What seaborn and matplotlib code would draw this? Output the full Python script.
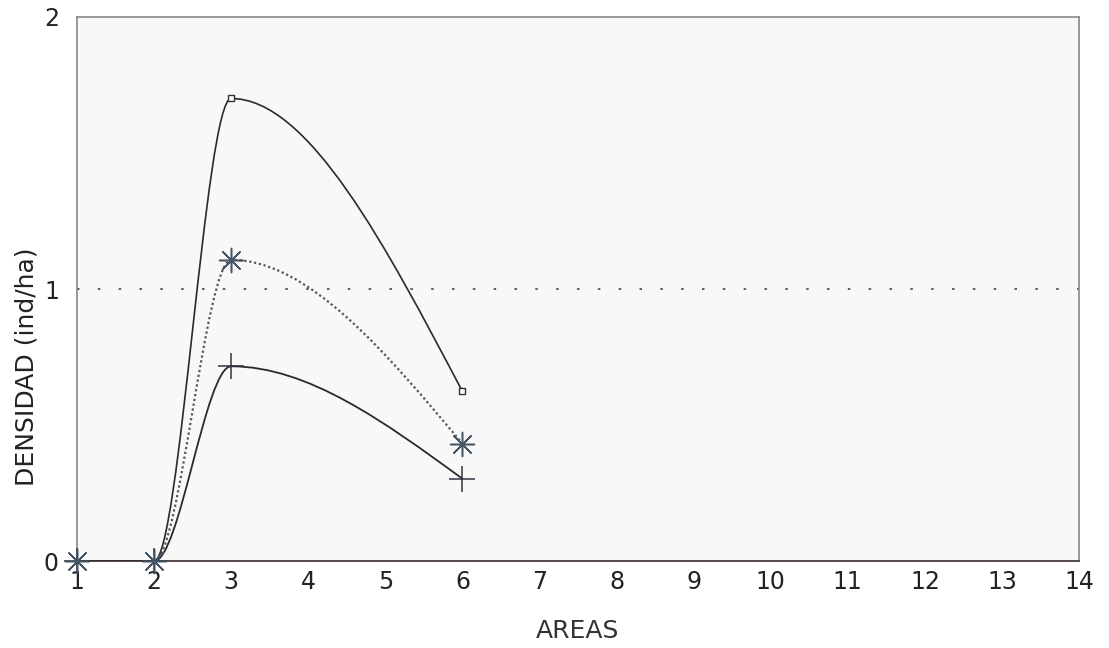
import matplotlib
matplotlib.use('Agg')
import matplotlib.pyplot as plt
from matplotlib.path import Path
from matplotlib.patches import PathPatch
import seaborn as sns

# Datos
areas = [1, 2, 3, 6]
serie_cuadro = [0.0, 0.0, 1.70, 0.624]
serie_asterisco = [0.0, 0.0, 1.107, 0.432]
serie_cruz = [0.0, 0.0, 0.716, 0.303]
x_ticks = list(range(1, 15))
y_ticks = [0, 1, 2]

sns.set_theme(style='white')
plt.rcParams['font.family'] = ['DejaVu Sans']


def tangentes(x, y):
    # pendientes tipo PCHIP en los puntos interiores, extremos "naturales"
    d = [(y[i + 1] - y[i]) / (x[i + 1] - x[i]) for i in range(len(x) - 1)]
    m = [0.0] * len(x)
    for i in range(1, len(x) - 1):
        if d[i - 1] * d[i] > 0:
            m[i] = 2 / (1 / d[i - 1] + 1 / d[i])
    m[0] = (3 * d[0] - m[1]) / 2
    m[-1] = (3 * d[-1] - m[-2]) / 2
    return m


def curva(ax, x, y, **kw):
    # curva suave dibujada como trazado bezier a traves de los puntos
    m = tangentes(x, y)
    verts = [(x[0], y[0])]
    codes = [Path.MOVETO]
    for i in range(len(x) - 1):
        h = (x[i + 1] - x[i]) / 3
        verts += [(x[i] + h, y[i] + m[i] * h),
                  (x[i + 1] - h, y[i + 1] - m[i + 1] * h),
                  (x[i + 1], y[i + 1])]
        codes += [Path.CURVE4] * 3
    ax.add_patch(PathPatch(Path(verts, codes), fill=False, **kw))


fig, ax = plt.subplots(figsize=(11.09, 6.48), dpi=100)
fig.subplots_adjust(left=0.0694, right=0.973, bottom=0.134, top=0.974)
ax.set_facecolor('#f8f8f8')

ax.axhline(1, color='#444444', lw=1.2, ls=(0, (1.5, 11)), zorder=1)

curva(ax, areas, serie_cuadro, color='#2a2a2a', lw=1.2, zorder=2)
curva(ax, areas, serie_asterisco, color='#555555', lw=1.6, ls=(0, (1, 1.2)), zorder=2)
curva(ax, areas, serie_cruz, color='#2a2a2a', lw=1.3, zorder=2)

sns.scatterplot(x=areas[2:], y=serie_cuadro[2:], marker='s', s=22, facecolor='white',
                edgecolor='#333333', linewidth=1, ax=ax, zorder=3)
sns.scatterplot(x=areas, y=serie_cruz, marker='+', s=330, color='#333344',
                linewidth=1.1, ax=ax, zorder=3)
sns.scatterplot(x=areas, y=serie_asterisco, marker=(8, 2, 0), s=300, color='#445566',
                linewidth=1.1, ax=ax, zorder=4)
for coll in ax.collections:
    coll.set_clip_on(False)

ax.set_xlim(1, 14)
ax.set_ylim(0, 2)
ax.set_xticks(x_ticks)
ax.set_yticks(y_ticks)
ax.tick_params(axis='both', length=0, labelsize=17, colors='#222222')
ax.tick_params(axis='x', pad=6)
ax.tick_params(axis='y', pad=13)
for lado in ['top', 'right', 'left']:
    ax.spines[lado].set_color('#888888')
    ax.spines[lado].set_linewidth(1.2)
ax.spines['bottom'].set_color('#3a2a2a')
ax.spines['bottom'].set_linewidth(1.2)

ax.set_xlabel('AREAS', fontsize=18, color='#333333')
ax.xaxis.set_label_coords(0.499, -0.106)
ax.set_ylabel('DENSIDAD (ind/ha)', fontsize=18, color='#222222')
ax.yaxis.set_label_coords(-0.038, 0.357)

fig.savefig('out.png', dpi=100)
